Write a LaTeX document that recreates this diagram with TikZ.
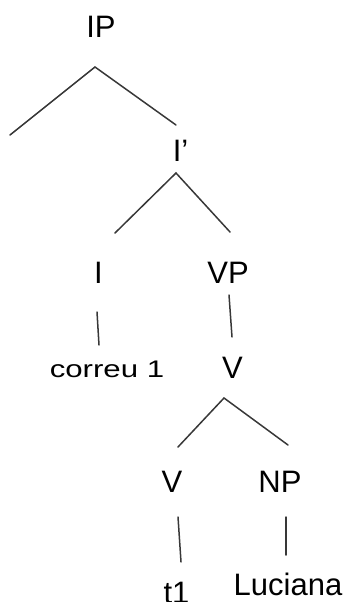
\documentclass[tikz,border=0pt]{standalone}
\usepackage{fontspec}
\setmainfont{Liberation Sans}
\begin{document}
\begin{tikzpicture}[x=1pt,y=-1pt,
  lab/.style={anchor=base,inner sep=0pt,font=\fontsize{31}{37}\selectfont},
  small/.style={anchor=base,inner sep=0pt,font=\fontsize{24}{29}\selectfont},
  edge/.style={draw=black!78,line width=1.5pt,line cap=round}]
\useasboundingbox (0,0) rectangle (348,602);
% labels
\node[lab] (IP) at (101,37.5) {IP};
\node[lab] (Ibar) at (180.5,161) {I’};
\node[lab] (I) at (98.5,283) {I};
\node[lab] (VP) at (228,283) {VP};
\node[small] (correu) at (107,377) {\scalebox{1.3}[1]{correu 1}};
\node[lab] (Vbar) at (232.5,378) {V};
\node[lab] (V) at (172,492) {V};
\node[lab] (NP) at (280,492) {NP};
\node[lab] (t) at (176.5,603) {t1};
\node[lab] (Luc) at (288,595) {Luciana};
% connector ends
\coordinate (ipa) at (95,67);
\coordinate (ipl) at (10,135);
\coordinate (ipr) at (176,125);
\coordinate (iba) at (176,173);
\coordinate (ibl) at (115,233);
\coordinate (ibr) at (230,232);
\coordinate (it) at (97,312);
\coordinate (ib) at (99,345);
\coordinate (vpt) at (229,295);
\coordinate (vpb) at (232,337);
\coordinate (va) at (224,398);
\coordinate (vl) at (178,447);
\coordinate (vr) at (288,445);
\coordinate (vt) at (178,517);
\coordinate (vb) at (181,562);
\coordinate (npt) at (286,517);
\coordinate (npb) at (286,555);
% connectors
\draw[edge] (ipl) -- (ipa) -- (ipr);
\draw[edge] (ibl) -- (iba) -- (ibr);
\draw[edge] (it) -- (ib);
\draw[edge] (vpt) -- (vpb);
\draw[edge] (vl) -- (va) -- (vr);
\draw[edge] (vt) -- (vb);
\draw[edge] (npt) -- (npb);
\end{tikzpicture}
\end{document}
